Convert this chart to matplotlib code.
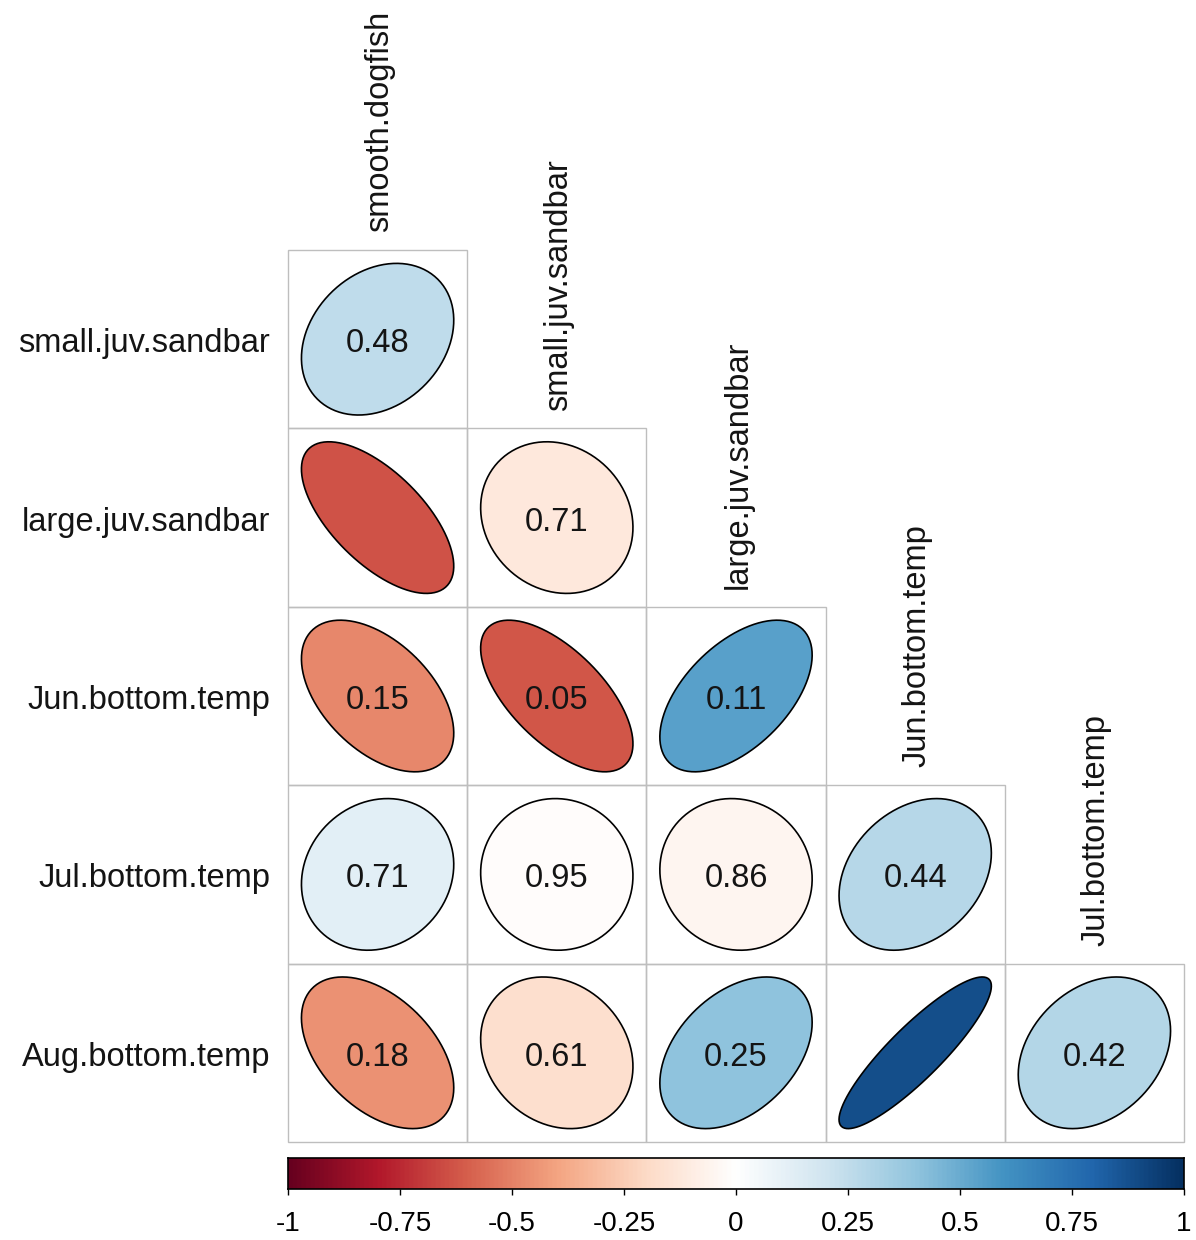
import matplotlib
matplotlib.use("Agg")
import matplotlib.pyplot as plt
import numpy as np
from matplotlib.colors import LinearSegmentedColormap
from matplotlib.patches import Polygon, Rectangle

plt.rcParams['font.family'] = ['Liberation Sans', 'DejaVu Sans']

# variables (rows are 2..6, columns are 1..5 of the lower triangle)
variables = ["smooth.dogfish", "small.juv.sandbar", "large.juv.sandbar",
             "Jun.bottom.temp", "Jul.bottom.temp", "Aug.bottom.temp"]

# lower-triangle correlations, row i+1 against columns 0..i
corr_rows = [
    [0.25],
    [-0.64, -0.13],
    [-0.49, -0.63, 0.54],
    [0.13, -0.02, -0.06, 0.28],
    [-0.46, -0.18, 0.40, 0.88, 0.29],
]

# p-values printed in the cells (blank where significant)
p_labels = [
    ["0.48"],
    ["", "0.71"],
    ["0.15", "0.05", "0.11"],
    ["0.71", "0.95", "0.86", "0.44"],
    ["0.18", "0.61", "0.25", "", "0.42"],
]

cbar_ticks = [-1, -0.75, -0.5, -0.25, 0, 0.25, 0.5, 0.75, 1]
cbar_ticklabels = ["-1", "-0.75", "-0.5", "-0.25", "0", "0.25", "0.5", "0.75", "1"]

rdbu = ["#67001F", "#B2182B", "#D6604D", "#F4A582", "#FDDBC7", "#FFFFFF",
        "#D1E5F0", "#92C5DE", "#4393C3", "#2166AC", "#053061"]
cmap = LinearSegmentedColormap.from_list("corr", rdbu, N=200)

W, H = 1196, 1240
fig = plt.figure(figsize=(W / 100, H / 100), dpi=100)

n = len(corr_rows)
x0, x1, y0, y1 = 288, 1184, 250, 1142
ax = fig.add_axes([x0 / W, 1 - y1 / H, (x1 - x0) / W, (y1 - y0) / H])
ax.set_xlim(0, n)
ax.set_ylim(0, n)
ax.axis("off")

FS = 23.5
TXT = "#141414"


def ellipse(rho, cx, cy, scale=0.85, npts=99):
    k = np.linspace(0, 2 * np.pi, npts)
    a = np.arccos(rho)
    ex = np.cos(k + a / 2) / 2 * scale + cx
    ey = np.cos(k - a / 2) / 2 * scale + cy
    return np.column_stack([ex, ey])


for i, row in enumerate(corr_rows):
    cy = n - i - 0.5
    for j, r in enumerate(row):
        cx = j + 0.5
        ax.add_patch(Rectangle((j, n - i - 1), 1, 1, fill=False,
                               edgecolor="#BEBEBE", lw=1.0, clip_on=False))
        ax.add_patch(Polygon(ellipse(r, cx, cy), closed=True,
                             facecolor=cmap((r + 1) / 2), edgecolor="black", lw=1.2))
        if p_labels[i][j]:
            ax.text(cx, cy - 0.025, p_labels[i][j], ha="center", va="center",
                    fontsize=FS, color=TXT)
    # row label
    ax.text(-0.1, cy - 0.025, variables[i + 1], ha="right", va="center",
            fontsize=FS, color=TXT)
    # column label above the first cell of this column
    ax.text(i + 0.5 + 0.01, n - i + 0.1, variables[i], ha="center", va="bottom",
            rotation=90, fontsize=FS, color=TXT)

# colour legend
cax = fig.add_axes([x0 / W, 1 - 1189 / H, (x1 - x0) / W, 31 / H])
grad = np.linspace(-1, 1, 400).reshape(1, -1)
cax.imshow(grad, cmap=cmap, vmin=-1, vmax=1, aspect="auto", extent=[-1, 1, 0, 1])
cax.set_xlim(-1, 1)
cax.set_yticks([])
cax.set_xticks(cbar_ticks)
cax.set_xticklabels(cbar_ticklabels)
cax.tick_params(axis="x", length=4, width=1, pad=12, labelsize=20, colors="black")
for s in cax.spines.values():
    s.set_linewidth(1.2)

fig.savefig("out.png", dpi=100, facecolor="white")
